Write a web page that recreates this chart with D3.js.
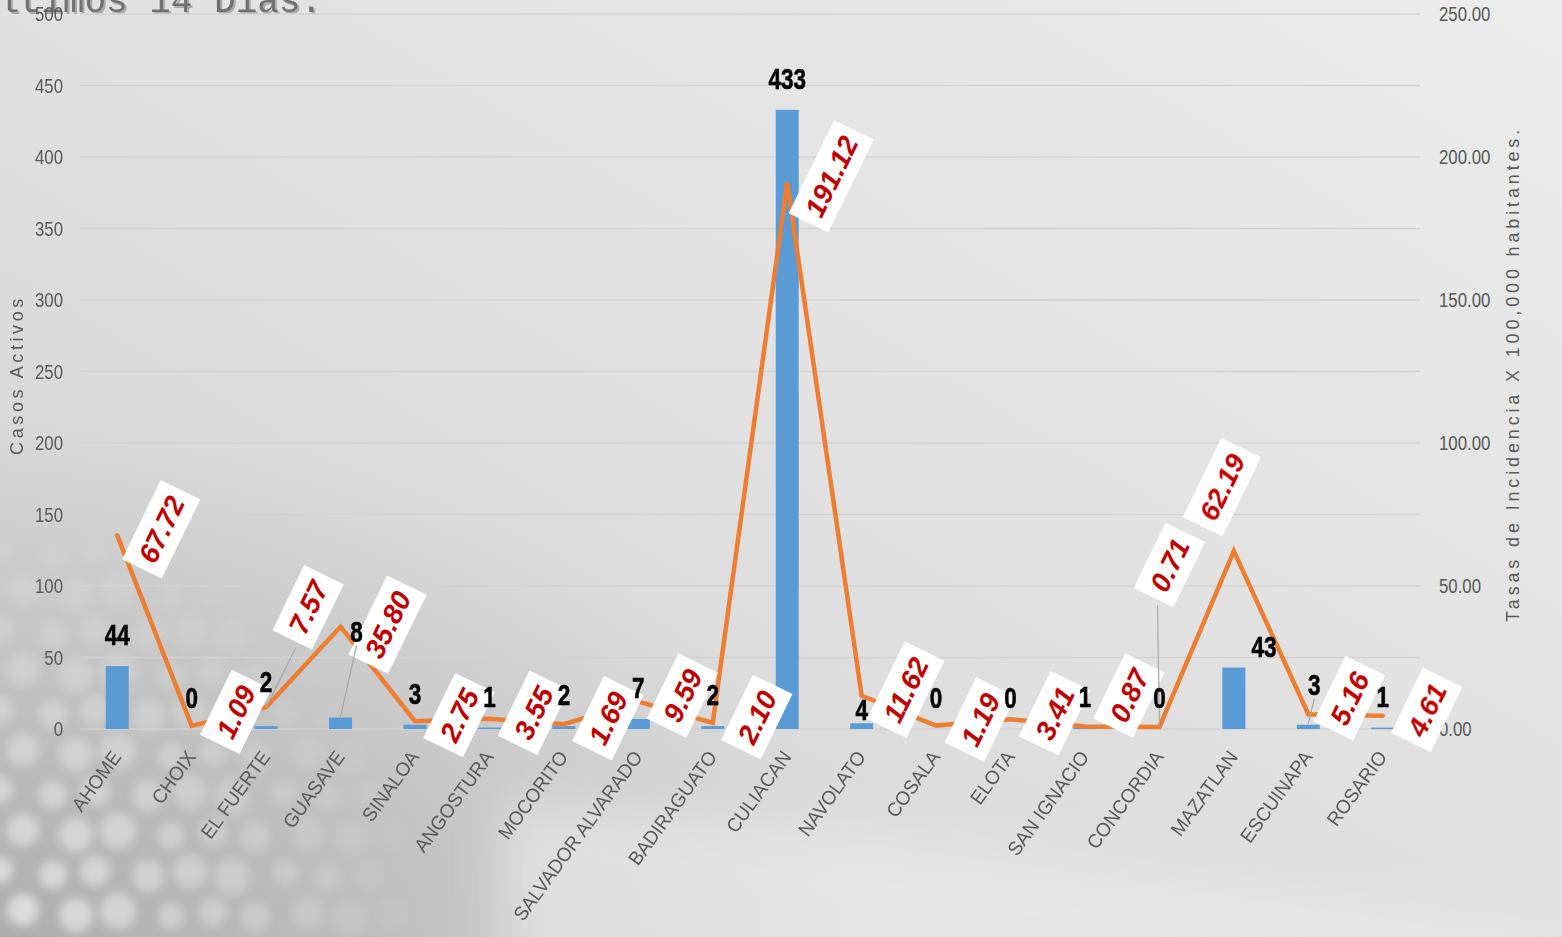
<!DOCTYPE html>
<html>
<head>
<meta charset="utf-8">
<script src="https://cdn.jsdelivr.net/npm/d3@7/dist/d3.min.js"></script>
<style>
  html, body { margin: 0; padding: 0; overflow: hidden; }
  svg { display: block; }
</style>
</head>
<body>
<script>
var
  municipios = ['AHOME', 'CHOIX', 'EL FUERTE', 'GUASAVE', 'SINALOA', 'ANGOSTURA', 'MOCORITO',
    'SALVADOR ALVARADO', 'BADIRAGUATO', 'CULIACAN', 'NAVOLATO', 'COSALA', 'ELOTA',
    'SAN IGNACIO', 'CONCORDIA', 'MAZATLAN', 'ESCUINAPA', 'ROSARIO'],
  casosActivos = [44, 0, 2, 8, 3, 1, 2, 7, 2, 433, 4, 0, 0, 1, 0, 43, 3, 1],
  tasas = [67.72, 1.09, 7.57, 35.80, 2.75, 3.55, 1.69, 9.59, 2.10, 191.12, 11.62, 1.19, 3.41,
    0.87, 0.71, 62.19, 5.16, 4.61],
  ticksIzq = [0, 50, 100, 150, 200, 250, 300, 350, 400, 450, 500],
  ticksDer = [0, 50, 100, 150, 200, 250],

  // label placement tweaks (dx, dy, leader)
  barNudge = {
    'EL FUERTE': [0, -13],
    'GUASAVE': [16, -55, true],
    'NAVOLATO': [0, 18],
    'MAZATLAN': [30, 10],
    'ESCUINAPA': [6, -9, true]
  },
  lineNudge = {
    'CHOIX': [0, -8],
    'EL FUERTE': [-2, -94, true],
    'GUASAVE': [3, 4],
    'SAN IGNACIO': [0, -25],
    'CONCORDIA': [-34, -156, true],
    'MAZATLAN': [-56, -58],
    'ESCUINAPA': [-3, -10]
  },

  config = {
    w: 1562,
    h: 937,
    left: 80,
    right: 1420,
    top: 14,
    bottom: 729
  },

  sans = '"Liberation Sans", Arial, sans-serif';

var svg = d3.select('body').append('svg')
  .attr('width', config.w)
  .attr('height', config.h);

var defs = svg.append('defs');

var bgGrad = defs.append('linearGradient')
  .attr('id', 'bg').attr('x1', '100%').attr('y1', '0%').attr('x2', '0%').attr('y2', '100%');
bgGrad.append('stop').attr('offset', '0%').attr('stop-color', '#ececec');
bgGrad.append('stop').attr('offset', '50%').attr('stop-color', '#e0e0e0');
bgGrad.append('stop').attr('offset', '100%').attr('stop-color', '#d0d0d0');

var blur = defs.append('filter').attr('id', 'blur')
  .attr('filterUnits', 'userSpaceOnUse')
  .attr('x', -100).attr('y', 300).attr('width', 1000).attr('height', 800);
blur.append('feGaussianBlur').attr('stdDeviation', 5);

var blurBig = defs.append('filter').attr('id', 'blurBig')
  .attr('filterUnits', 'userSpaceOnUse')
  .attr('x', 0).attr('y', 500).attr('width', 1700).attr('height', 600);
blurBig.append('feGaussianBlur').attr('stdDeviation', 25);

var corner = defs.append('radialGradient')
  .attr('id', 'corner').attr('cx', '0%').attr('cy', '100%').attr('r', '55%');
corner.append('stop').attr('offset', '0%').attr('stop-color', '#a5a5a5').attr('stop-opacity', 0.8);
corner.append('stop').attr('offset', '100%').attr('stop-color', '#a5a5a5').attr('stop-opacity', 0);

// background
svg.append('rect').attr('width', '100%').attr('height', '100%').attr('fill', 'url(#bg)');
svg.append('rect').attr('width', '100%').attr('height', '100%').attr('fill', 'url(#corner)');

svg.append('path')
  .attr('d', 'M500,800 C850,820 1200,880 1600,940 L1600,1000 L500,1000 Z')
  .attr('fill', '#ededed').attr('opacity', 0.6)
  .attr('filter', 'url(#blurBig)');

// bokeh texture (decoration only)
var bokeh = svg.append('g').attr('filter', 'url(#blur)');
for (var row = 0; row < 12; row++) {
  for (var col = 0; col < 14; col++) {
    var bx = col * 46 + (row % 2) * 23 + (col * 7 % 11),
      by = 470 + row * 40 + (col * 5 % 9),
      d = Math.sqrt(bx * bx + (937 - by) * (937 - by)),
      op = Math.max(0, 0.6 - d / 720);
    if (op <= 0.03) continue;
    bokeh.append('circle')
      .attr('cx', bx).attr('cy', by).attr('r', 13 + (row * 3 + col) % 6)
      .attr('fill', '#ffffff').attr('opacity', op);
  }
}

// title fragment
var titulo = 'ltimos 14 Dias.';
svg.append('text')
  .attr('x', 0).attr('y', 14)
  .attr('font-family', '"Liberation Mono", "Courier New", monospace')
  .attr('font-size', 36)
  .attr('fill', '#333').attr('opacity', 0.3)
  .text(titulo);
svg.append('text')
  .attr('x', -2).attr('y', 12)
  .attr('font-family', '"Liberation Mono", "Courier New", monospace')
  .attr('font-size', 36)
  .attr('fill', '#707070')
  .text(titulo);

var x = d3.scaleBand().domain(municipios).range([config.left, config.right]),
  yL = d3.scaleLinear().domain([0, 500]).range([config.bottom, config.top]),
  yR = d3.scaleLinear().domain([0, 250]).range([config.bottom, config.top]),
  cx = function (m) { return x(m) + x.bandwidth() / 2; };

// grid
svg.append('g').selectAll('line').data(ticksIzq).enter().append('line')
  .attr('x1', config.left).attr('x2', config.right)
  .attr('y1', function (d) { return yL(d); })
  .attr('y2', function (d) { return yL(d); })
  .attr('stroke', '#d2d2d2').attr('stroke-width', 1.5);

// axes (text squeezed to mimic a condensed face)
var axisL = svg.append('g')
  .attr('transform', 'translate(' + (config.left - 17) + ',0)')
  .call(d3.axisLeft(yL).tickValues(ticksIzq).tickSize(0).tickPadding(0));
var axisR = svg.append('g')
  .attr('transform', 'translate(' + (config.right + 19) + ',0)')
  .call(d3.axisRight(yR).tickValues(ticksDer).tickSize(0).tickPadding(0).tickFormat(d3.format('.2f')));
[axisL, axisR].forEach(function (a) {
  a.select('.domain').remove();
  a.selectAll('text')
    .attr('x', 0)
    .attr('transform', 'scale(0.8,1)')
    .attr('font-family', sans)
    .attr('font-size', 21).attr('fill', '#595959');
});

svg.append('text')
  .attr('transform', 'translate(23,375) rotate(-90)')
  .attr('text-anchor', 'middle')
  .attr('font-family', sans)
  .attr('font-size', 18).attr('letter-spacing', 3.6)
  .attr('fill', '#595959')
  .text('Casos Activos');

svg.append('text')
  .attr('transform', 'translate(1519,374) rotate(-90)')
  .attr('text-anchor', 'middle')
  .attr('font-family', sans)
  .attr('font-size', 18).attr('letter-spacing', 3.85)
  .attr('fill', '#595959')
  .text('Tasas de Incidencia X 100,000 habitantes.');

// x labels
svg.append('g').selectAll('text').data(municipios).enter().append('text')
  .attr('transform', function (d) { return 'translate(' + (cx(d) + 5) + ',757) rotate(-54) scale(0.97,1)'; })
  .attr('text-anchor', 'end')
  .attr('font-family', sans)
  .attr('font-size', 19.5)
  .attr('fill', '#595959')
  .text(function (d) { return d; });

// bars
var barW = 23;
svg.append('g').selectAll('rect').data(municipios).enter().append('rect')
  .attr('x', function (d) { return cx(d) - barW / 2; })
  .attr('y', function (d, i) { return yL(casosActivos[i]); })
  .attr('width', barW)
  .attr('height', function (d, i) { return Math.max(1.5, config.bottom - yL(casosActivos[i])); })
  .attr('fill', '#5b9bd5')
  .attr('opacity', function (d, i) { return casosActivos[i] === 0 ? 0 : 1; });

// line
var line = d3.line()
  .x(function (d) { return cx(d.m); })
  .y(function (d) { return yR(d.v); });
var lineData = municipios.map(function (m, i) { return { m: m, v: tasas[i] }; });

svg.append('path')
  .datum(lineData)
  .attr('d', line)
  .attr('fill', 'none')
  .attr('stroke', '#ed7d31')
  .attr('stroke-width', 4.5)
  .attr('stroke-linejoin', 'miter')
  .attr('stroke-linecap', 'round');

// line labels
var lineLabels = svg.append('g');
municipios.forEach(function (m, i) {
  var n = lineNudge[m] || [0, 0],
    px = cx(m),
    py = yR(tasas[i]),
    lx = px + 44 + n[0],
    ly = py - 6 + n[1];
  if (n[2]) {
    lineLabels.append('line')
      .attr('x1', lx - 12).attr('y1', ly + 40)
      .attr('x2', px).attr('y2', py)
      .attr('stroke', '#a6a6a6').attr('stroke-width', 1.2);
  }
  var g = lineLabels.append('g')
    .attr('transform', 'translate(' + lx + ',' + ly + ') rotate(-64)');
  var rect = g.append('rect').attr('fill', '#ffffff');
  var t = g.append('text')
    .attr('text-anchor', 'middle')
    .attr('dy', '0.36em')
    .attr('font-family', sans)
    .attr('font-weight', 'bold').attr('font-style', 'italic').attr('font-size', 28)
    .attr('fill', '#c00000')
    .text(d3.format('.2f')(tasas[i]));
  var tw = t.node().getComputedTextLength() + 18;
  rect.attr('x', -tw / 2).attr('y', -22).attr('width', tw).attr('height', 44);
});

// bar labels (on top)
var barLabels = svg.append('g');
municipios.forEach(function (m, i) {
  var n = barNudge[m] || [0, 0],
    lx = cx(m) + n[0],
    ly = yL(casosActivos[i]) - 21 + n[1];
  if (n[2]) {
    barLabels.append('line')
      .attr('x1', lx).attr('y1', ly + 4)
      .attr('x2', cx(m)).attr('y2', yL(casosActivos[i]) - 1)
      .attr('stroke', '#a6a6a6').attr('stroke-width', 1.2);
  }
  barLabels.append('text')
    .attr('transform', 'translate(' + lx + ',' + ly + ') scale(0.75,1)')
    .attr('text-anchor', 'middle')
    .attr('font-family', sans)
    .attr('font-weight', 'bold').attr('font-size', 30)
    .attr('fill', '#000')
    .attr('stroke', '#000').attr('stroke-width', 0.6)
    .text(casosActivos[i]);
});
</script>
</body>
</html>
